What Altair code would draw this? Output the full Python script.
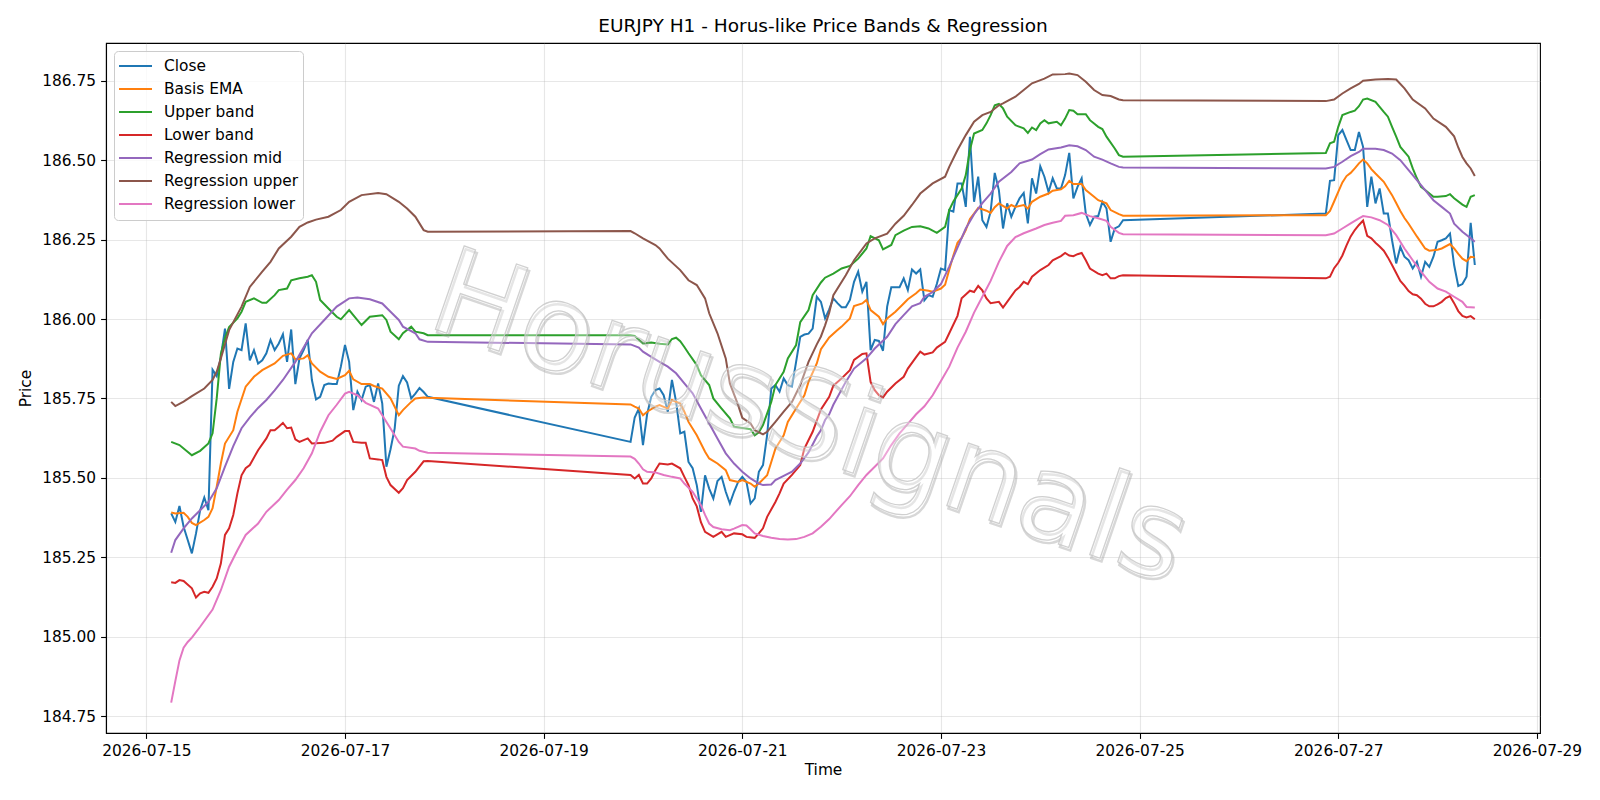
import altair as alt
import pandas as pd

# Hourly EURJPY bars start here; offsets below are hours from this moment.
START = pd.Timestamp("2026-07-15 06:00")

TITLE = "EURJPY H1 - Horus-like Price Bands & Regression"
WATERMARK = "HorusSignals"

SERIES = ["Close", "Basis EMA", "Upper band", "Lower band",
          "Regression mid", "Regression upper", "Regression lower"]
COLORS = ["#1f77b4", "#ff7f0e", "#2ca02c", "#d62728",
          "#9467bd", "#8c564b", "#e377c2"]

# Trading hours (weekend closures left out: Fri 20:00 -> Sun 21:00)
CLOSE_HOURS = list(range(0, 63)) + list(range(111, 231)) + list(range(279, 316))
CLOSE = [
    185.388, 185.361, 185.411, 185.346, 185.304, 185.262, 185.325, 185.398, 185.438, 185.398,
    185.840, 185.820, 185.880, 185.970, 185.780, 185.865, 185.907, 185.902, 185.986, 185.870,
    185.902, 185.860, 185.870, 185.892, 185.934, 185.902, 185.923, 185.952, 185.865, 185.967,
    185.795, 185.876, 185.902, 185.934, 185.808, 185.747, 185.755, 185.792, 185.797, 185.795,
    185.795, 185.850, 185.918, 185.865, 185.713, 185.771, 185.745, 185.787, 185.792, 185.739,
    185.797, 185.734, 185.535, 185.590, 185.655, 185.790, 185.820, 185.800, 185.750, 185.765,
    185.783, 185.770, 185.755,
    185.613, 185.690, 185.718, 185.603, 185.700, 185.755, 185.776, 185.781, 185.760, 185.708,
    185.808, 185.740, 185.640, 185.645, 185.550, 185.530, 185.477, 185.393, 185.508, 185.466,
    185.435, 185.490, 185.503, 185.456, 185.419, 185.456, 185.487, 185.503, 185.487, 185.419,
    185.435, 185.519, 185.540, 185.634, 185.781, 185.792, 185.771, 185.813, 185.792, 185.787,
    185.865, 185.944, 185.951, 185.954, 185.970, 186.070, 186.054, 186.002, 186.030, 186.065,
    186.050, 186.037, 186.037, 186.060, 186.117, 186.149, 186.086, 186.117, 185.902, 185.934,
    185.931, 185.900, 186.039, 186.100, 186.100, 186.100, 186.128, 186.091, 186.156, 186.143,
    186.156, 186.059, 186.075, 186.070, 186.110, 186.159, 186.154, 186.343, 186.338, 186.427,
    186.427, 186.353, 186.574, 186.369, 186.448, 186.311, 186.290, 186.338, 186.460, 186.406,
    186.285, 186.364, 186.322, 186.353, 186.380, 186.397, 186.301, 186.443, 186.395, 186.481,
    186.448, 186.400, 186.443, 186.411, 186.411, 186.453, 186.523, 186.380, 186.416, 186.443,
    186.332, 186.296, 186.322, 186.324, 186.369, 186.348, 186.243, 186.285, 186.292, 186.311,
    186.332, 186.435, 186.437, 186.579, 186.595, 186.563, 186.532, 186.532, 186.589, 186.542,
    186.353, 186.448, 186.364, 186.411, 186.332, 186.332, 186.248, 186.175, 186.227, 186.196,
    186.185, 186.159, 186.180, 186.133, 186.180, 186.164, 186.196, 186.243, 186.248, 186.254,
    186.269, 186.170, 186.104, 186.110, 186.133, 186.303, 186.170,
]

# (hour, value) readings for the smoother studies
BASIS_EMA = [
    (0, 185.391), (1, 185.388), (3, 185.390), (4, 185.377), (5, 185.358), (6, 185.351),
    (8, 185.367), (9, 185.377), (10, 185.404), (11, 185.472), (12, 185.545), (13, 185.608),
    (15, 185.650), (16, 185.708), (18, 185.787), (20, 185.818), (22, 185.839), (25, 185.860),
    (27, 185.884), (29, 185.892), (30, 185.873), (32, 185.876), (33, 185.886), (34, 185.860),
    (36, 185.834), (38, 185.818), (40, 185.811), (42, 185.823), (43, 185.837), (44, 185.810),
    (46, 185.795), (48, 185.795), (49, 185.789), (51, 185.781), (53, 185.750), (55, 185.697),
    (56, 185.713), (58, 185.739), (59, 185.750), (61, 185.753), (62, 185.752),
    (111, 185.731), (112, 185.724), (113, 185.718), (114, 185.697), (115, 185.708),
    (117, 185.724), (118, 185.729), (120, 185.718), (121, 185.745), (123, 185.734),
    (124, 185.708), (125, 185.676), (127, 185.634), (129, 185.582), (130, 185.561),
    (132, 185.545), (134, 185.524), (135, 185.493), (137, 185.487), (138, 185.493),
    (140, 185.482), (141, 185.472), (142, 185.482), (144, 185.508), (145, 185.550),
    (146, 185.592), (148, 185.634), (149, 185.676), (151, 185.718), (153, 185.760),
    (154, 185.802), (156, 185.860), (157, 185.905), (159, 185.942), (161, 185.965),
    (162, 185.976), (164, 186.002), (165, 186.041), (167, 186.049), (168, 186.060),
    (169, 186.028), (171, 186.007), (172, 185.984), (173, 186.002), (175, 186.023),
    (177, 186.049), (178, 186.062), (180, 186.081), (181, 186.093), (183, 186.089),
    (184, 186.086), (186, 186.096), (187, 186.108), (188, 186.155), (189, 186.200),
    (190, 186.240), (191, 186.255), (192, 186.280), (193, 186.315), (194, 186.332),
    (195, 186.350), (197, 186.341), (198, 186.334), (199, 186.352), (200, 186.364),
    (202, 186.348), (203, 186.359), (204, 186.353), (206, 186.359), (207, 186.348),
    (208, 186.369), (210, 186.385), (212, 186.395), (213, 186.404), (215, 186.408),
    (216, 186.418), (217, 186.435), (218, 186.425), (220, 186.425), (221, 186.406),
    (223, 186.385), (224, 186.374), (226, 186.364), (227, 186.343), (229, 186.330),
    (230, 186.325),
    (279, 186.327), (280, 186.340), (281, 186.370), (282, 186.400), (283, 186.430),
    (284, 186.450), (285, 186.460), (286, 186.474), (287, 186.490), (288, 186.502),
    (289, 186.490), (290, 186.472), (291, 186.458), (293, 186.432), (295, 186.390),
    (296, 186.365), (297, 186.340), (298, 186.318), (299, 186.300), (301, 186.260),
    (303, 186.222), (304, 186.215), (306, 186.218), (307, 186.222), (309, 186.236),
    (310, 186.222), (311, 186.205), (312, 186.190), (313, 186.182), (314, 186.196),
    (315, 186.194),
]

UPPER_BAND = [
    (0, 185.613), (2, 185.603), (5, 185.571), (7, 185.585), (9, 185.608), (10, 185.640),
    (11, 185.750), (12, 185.890), (13, 185.940), (14, 185.975), (16, 186.002), (17, 186.023),
    (18, 186.054), (20, 186.065), (22, 186.051), (23, 186.051), (25, 186.075), (26, 186.091),
    (28, 186.096), (29, 186.122), (31, 186.128), (33, 186.133), (34, 186.138), (35, 186.117),
    (36, 186.060), (38, 186.033), (40, 186.007), (41, 185.999), (43, 186.028), (44, 186.012),
    (46, 185.981), (48, 186.007), (49, 186.009), (51, 186.012), (52, 185.997), (53, 185.960),
    (55, 185.936), (56, 185.955), (58, 185.976), (59, 185.960), (61, 185.955), (62, 185.949),
    (111, 185.949), (112, 185.947), (114, 185.923), (116, 185.926), (118, 185.922),
    (120, 185.920), (121, 185.937), (122, 185.941), (123, 185.930), (124, 185.912),
    (125, 185.892), (127, 185.855), (128, 185.823), (130, 185.792), (131, 185.750),
    (133, 185.718), (135, 185.687), (136, 185.661), (138, 185.657), (140, 185.653),
    (141, 185.634), (142, 185.643), (143, 185.666), (145, 185.739), (146, 185.792),
    (148, 185.834), (149, 185.876), (151, 185.918), (152, 185.990), (154, 186.028),
    (155, 186.075), (157, 186.115), (158, 186.130), (160, 186.143), (162, 186.159),
    (164, 186.167), (166, 186.190), (168, 186.222), (169, 186.261), (171, 186.248),
    (172, 186.219), (174, 186.233), (175, 186.264), (177, 186.278), (179, 186.290),
    (181, 186.292), (183, 186.285), (185, 186.271), (187, 186.290), (188, 186.343),
    (189, 186.370), (191, 186.411), (192, 186.453), (193, 186.532), (194, 186.584),
    (196, 186.595), (197, 186.616), (198, 186.642), (199, 186.673), (200, 186.677),
    (201, 186.663), (202, 186.637), (204, 186.610), (206, 186.600), (207, 186.586),
    (208, 186.603), (209, 186.595), (210, 186.616), (211, 186.626), (212, 186.616),
    (214, 186.621), (215, 186.610), (216, 186.631), (217, 186.658), (218, 186.656),
    (219, 186.645), (221, 186.645), (222, 186.626), (224, 186.605), (225, 186.598),
    (226, 186.574), (228, 186.537), (229, 186.516), (230, 186.511),
    (279, 186.523), (280, 186.553), (281, 186.558), (282, 186.605), (283, 186.642),
    (285, 186.652), (286, 186.656), (287, 186.670), (288, 186.691), (289, 186.694),
    (291, 186.684), (292, 186.668), (293, 186.652), (294, 186.637), (295, 186.605),
    (296, 186.574), (297, 186.542), (299, 186.511), (300, 186.474), (301, 186.443),
    (302, 186.416), (303, 186.406), (305, 186.385), (306, 186.385), (308, 186.387),
    (309, 186.393), (310, 186.380), (312, 186.360), (313, 186.353), (314, 186.385),
    (315, 186.390),
]

LOWER_BAND = [
    (0, 185.171), (1, 185.169), (2, 185.178), (3, 185.175), (5, 185.152), (6, 185.123),
    (7, 185.136), (8, 185.141), (9, 185.138), (10, 185.157), (11, 185.183), (12, 185.230),
    (13, 185.320), (14, 185.341), (15, 185.383), (16, 185.451), (17, 185.508), (18, 185.530),
    (19, 185.540), (21, 185.587), (23, 185.624), (24, 185.650), (25, 185.650), (26, 185.661),
    (27, 185.673), (28, 185.656), (29, 185.658), (30, 185.621), (31, 185.613), (33, 185.624),
    (34, 185.608), (37, 185.610), (39, 185.617), (40, 185.629), (42, 185.647), (43, 185.647),
    (44, 185.613), (46, 185.610), (47, 185.610), (48, 185.561), (50, 185.558), (51, 185.556),
    (52, 185.503), (53, 185.477), (55, 185.453), (56, 185.467), (57, 185.493), (59, 185.519),
    (61, 185.552), (62, 185.553),
    (111, 185.509), (112, 185.498), (113, 185.509), (114, 185.482), (115, 185.482),
    (116, 185.498), (117, 185.524), (118, 185.545), (120, 185.542), (121, 185.545),
    (123, 185.530), (124, 185.503), (125, 185.477), (126, 185.435), (127, 185.410),
    (128, 185.360), (129, 185.330), (131, 185.314), (133, 185.330), (134, 185.314),
    (136, 185.325), (138, 185.322), (139, 185.314), (141, 185.311), (142, 185.325),
    (143, 185.341), (144, 185.377), (146, 185.424), (147, 185.451), (148, 185.482),
    (150, 185.509), (152, 185.540), (153, 185.592), (155, 185.645), (156, 185.680),
    (157, 185.715), (159, 185.755), (160, 185.790), (162, 185.813), (164, 185.839),
    (165, 185.871), (167, 185.890), (168, 185.892), (169, 185.802), (170, 185.776),
    (171, 185.760), (172, 185.753), (173, 185.771), (175, 185.797), (177, 185.818),
    (178, 185.844), (180, 185.880), (181, 185.897), (182, 185.888), (184, 185.895),
    (185, 185.910), (187, 185.928), (188, 185.955), (190, 186.010), (191, 186.065),
    (192, 186.077), (193, 186.089), (194, 186.085), (195, 186.104), (196, 186.090),
    (197, 186.065), (198, 186.050), (200, 186.054), (201, 186.036), (202, 186.054),
    (204, 186.090), (205, 186.101), (206, 186.117), (207, 186.110), (208, 186.133),
    (210, 186.154), (212, 186.170), (213, 186.185), (215, 186.198), (216, 186.208),
    (217, 186.200), (218, 186.198), (219, 186.204), (220, 186.208), (221, 186.185),
    (222, 186.159), (224, 186.143), (225, 186.138), (226, 186.143), (227, 186.128),
    (228, 186.128), (229, 186.135), (230, 186.138),
    (279, 186.128), (280, 186.133), (281, 186.160), (282, 186.177), (283, 186.200),
    (284, 186.232), (285, 186.260), (286, 186.280), (287, 186.296), (288, 186.310),
    (289, 186.262), (290, 186.254), (291, 186.240), (292, 186.228), (293, 186.215),
    (294, 186.194), (295, 186.170), (296, 186.145), (297, 186.120), (298, 186.105),
    (299, 186.088), (300, 186.078), (301, 186.075), (302, 186.064), (303, 186.048),
    (304, 186.040), (305, 186.040), (306, 186.046), (307, 186.054), (308, 186.066),
    (309, 186.072), (310, 186.050), (311, 186.025), (312, 186.010), (313, 186.005),
    (314, 186.009), (315, 185.999),
]

REG_MID = [
    (0, 185.264), (1, 185.304), (3, 185.341), (5, 185.372), (7, 185.398), (9, 185.424),
    (11, 185.467), (13, 185.535), (15, 185.600), (17, 185.656), (19, 185.690), (21, 185.720),
    (23, 185.745), (25, 185.775), (27, 185.808), (30, 185.865), (32, 185.910), (34, 185.955),
    (37, 185.997), (40, 186.039), (43, 186.065), (45, 186.068), (48, 186.062), (51, 186.049),
    (53, 186.023), (55, 185.997), (56, 185.976), (59, 185.955), (60, 185.936), (62, 185.928),
    (111, 185.920), (113, 185.910), (114, 185.897), (116, 185.881), (118, 185.865),
    (120, 185.850), (122, 185.829), (124, 185.797), (126, 185.766), (128, 185.718),
    (130, 185.671), (132, 185.624), (134, 185.577), (136, 185.545), (138, 185.519),
    (140, 185.498), (142, 185.482), (143, 185.477), (145, 185.479), (146, 185.493),
    (148, 185.506), (150, 185.519), (152, 185.545), (154, 185.580), (156, 185.630),
    (157, 185.650), (158, 185.682), (159, 185.700), (160, 185.730), (163, 185.802),
    (165, 185.844), (168, 185.876), (170, 185.907), (173, 185.944), (175, 185.984),
    (177, 186.012), (179, 186.040), (181, 186.050), (182, 186.070), (184, 186.085),
    (186, 186.110), (188, 186.165), (190, 186.225), (192, 186.285), (194, 186.330),
    (196, 186.365), (198, 186.395), (200, 186.432), (203, 186.463), (205, 186.490),
    (208, 186.502), (210, 186.519), (212, 186.534), (215, 186.540), (217, 186.547),
    (219, 186.544), (221, 186.532), (223, 186.511), (225, 186.502), (227, 186.490),
    (229, 186.479), (230, 186.477),
    (279, 186.474), (281, 186.479), (283, 186.495), (285, 186.513), (287, 186.526),
    (288, 186.536), (291, 186.536), (293, 186.532), (295, 186.521), (297, 186.500),
    (299, 186.469), (301, 186.437), (303, 186.406), (305, 186.374), (307, 186.353),
    (309, 186.332), (310, 186.300), (312, 186.275), (314, 186.254), (315, 186.243),
]

REG_UPPER = [
    (0, 185.739), (1, 185.726), (3, 185.740), (5, 185.757), (8, 185.781), (10, 185.808),
    (11, 185.834), (12, 185.876), (14, 185.965), (17, 186.039), (19, 186.101), (22, 186.149),
    (24, 186.180), (26, 186.222), (29, 186.259), (31, 186.290), (33, 186.304), (35, 186.313),
    (38, 186.322), (41, 186.343), (43, 186.369), (46, 186.390), (50, 186.397), (52, 186.393),
    (55, 186.369), (57, 186.348), (59, 186.322), (61, 186.280), (62, 186.275),
    (111, 186.277), (112, 186.270), (114, 186.254), (117, 186.233), (118, 186.222),
    (120, 186.190), (123, 186.154), (125, 186.122), (127, 186.107), (129, 186.065),
    (130, 186.018), (132, 185.955), (134, 185.876), (135, 185.797), (137, 185.729),
    (138, 185.689), (140, 185.671), (141, 185.650), (143, 185.637), (144, 185.645),
    (146, 185.676), (148, 185.708), (150, 185.739), (152, 185.792), (154, 185.865),
    (156, 185.920), (157, 185.945), (158, 185.980), (159, 186.020), (160, 186.075),
    (163, 186.138), (165, 186.185), (168, 186.238), (170, 186.254), (173, 186.269),
    (175, 186.300), (177, 186.325), (179, 186.359), (181, 186.395), (184, 186.427),
    (187, 186.448), (188, 186.479), (190, 186.532), (192, 186.579), (194, 186.621),
    (196, 186.642), (198, 186.652), (200, 186.673), (201, 186.679), (204, 186.700),
    (206, 186.721), (208, 186.742), (211, 186.757), (213, 186.770), (216, 186.771),
    (217, 186.773), (219, 186.768), (221, 186.747), (223, 186.721), (225, 186.705),
    (227, 186.702), (229, 186.691), (230, 186.689),
    (279, 186.686), (281, 186.691), (283, 186.710), (285, 186.726), (287, 186.740),
    (288, 186.750), (291, 186.754), (294, 186.756), (296, 186.754), (298, 186.726),
    (300, 186.691), (303, 186.663), (305, 186.631), (308, 186.605), (310, 186.575),
    (311, 186.540), (312, 186.510), (313, 186.490), (314, 186.474), (315, 186.450),
]

REG_LOWER = [
    (0, 184.792), (1, 184.860), (2, 184.925), (3, 184.965), (4, 184.983), (5, 184.997),
    (7, 185.031), (10, 185.085), (12, 185.146), (14, 185.220), (16, 185.272), (18, 185.320),
    (21, 185.356), (23, 185.393), (26, 185.430), (28, 185.463), (30, 185.493), (32, 185.530),
    (34, 185.577), (36, 185.645), (38, 185.697), (40, 185.730), (42, 185.765), (43, 185.771),
    (45, 185.760), (47, 185.736), (50, 185.718), (51, 185.697), (53, 185.655), (55, 185.613),
    (56, 185.598), (59, 185.592), (60, 185.585), (62, 185.579),
    (111, 185.567), (112, 185.560), (113, 185.545), (114, 185.527), (115, 185.519),
    (117, 185.517), (119, 185.509), (121, 185.503), (123, 185.498), (124, 185.482),
    (126, 185.456), (127, 185.435), (128, 185.414), (129, 185.383), (130, 185.356),
    (131, 185.345), (133, 185.338), (135, 185.335), (136, 185.340), (138, 185.351),
    (139, 185.350), (140, 185.338), (141, 185.325), (143, 185.317), (145, 185.311),
    (147, 185.307), (149, 185.306), (151, 185.307), (153, 185.314), (155, 185.325),
    (157, 185.346), (159, 185.370), (160, 185.385), (162, 185.414), (164, 185.442),
    (166, 185.477), (168, 185.509), (170, 185.535), (172, 185.561), (174, 185.603),
    (176, 185.640), (178, 185.670), (180, 185.700), (182, 185.725), (184, 185.760),
    (186, 185.805), (188, 185.850), (190, 185.910), (192, 185.960), (194, 186.020),
    (196, 186.070), (198, 186.120), (200, 186.180), (202, 186.230), (204, 186.258),
    (206, 186.270), (209, 186.285), (211, 186.296), (213, 186.303), (215, 186.309),
    (216, 186.325), (218, 186.327), (220, 186.334), (222, 186.324), (224, 186.317),
    (226, 186.309), (227, 186.290), (229, 186.271), (230, 186.267),
    (279, 186.264), (281, 186.269), (283, 186.285), (285, 186.301), (287, 186.317),
    (288, 186.324), (290, 186.320), (292, 186.311), (294, 186.296), (296, 186.264),
    (298, 186.222), (300, 186.185), (302, 186.149), (304, 186.117), (306, 186.096),
    (308, 186.086), (310, 186.070), (312, 186.054), (313, 186.038), (315, 186.036),
]

Y_TICKS = [184.75, 185.00, 185.25, 185.50, 185.75, 186.00, 186.25, 186.50, 186.75]
X_TICK_DAYS = [15, 17, 19, 21, 23, 25, 27, 29]

FONT = "DejaVu Sans"


def frame(name, hours, values):
    return pd.DataFrame({
        "time": START + pd.to_timedelta(hours, unit="h"),
        "price": values,
        "series": name,
    })


def pairs(name, readings):
    return frame(name, [h for h, _ in readings], [v for _, v in readings])


df = pd.concat([
    frame("Close", CLOSE_HOURS, CLOSE),
    pairs("Basis EMA", BASIS_EMA),
    pairs("Upper band", UPPER_BAND),
    pairs("Lower band", LOWER_BAND),
    pairs("Regression mid", REG_MID),
    pairs("Regression upper", REG_UPPER),
    pairs("Regression lower", REG_LOWER),
], ignore_index=True)
df["order"] = df["series"].map({s: i for i, s in enumerate(SERIES)})

x_domain = [alt.DateTime(year=2026, month=7, date=14, hours=14, minutes=15),
            alt.DateTime(year=2026, month=7, date=29, hours=0, minutes=45)]
x_ticks = [alt.DateTime(year=2026, month=7, date=d) for d in X_TICK_DAYS]

lines = alt.Chart(df).mark_line(strokeWidth=2, clip=True).encode(
    x=alt.X("time:T", title="Time",
            scale=alt.Scale(domain=x_domain),
            axis=alt.Axis(values=x_ticks, format="%Y-%m-%d", labelFlush=False,
                          labelOverlap=False, titlePadding=4)),
    y=alt.Y("price:Q", title="Price",
            scale=alt.Scale(domain=[184.6965, 186.869], nice=False, zero=False),
            axis=alt.Axis(values=Y_TICKS, format=".2f", titlePadding=8)),
    color=alt.Color("series:N", sort=SERIES,
                    scale=alt.Scale(domain=SERIES, range=COLORS),
                    legend=alt.Legend(title=None, orient="none", legendX=8, legendY=8,
                                      symbolType="stroke", symbolSize=1089,
                                      symbolStrokeWidth=2, labelFont=FONT,
                                      labelFontSize=15.4, labelColor="black",
                                      labelOffset=11, clipHeight=22.1, rowPadding=0,
                                      padding=4,
                                      fillColor="rgba(255,255,255,0.8)",
                                      strokeColor="#cccccc", cornerRadius=4)),
    order=alt.Order("order:Q"),
)

# Faint rotated brand stamp across the plot: soft offset shadow + light outline
mark_df = pd.DataFrame({"label": [WATERMARK]})
shadow = alt.Chart(mark_df).mark_text(
    font=FONT, fontSize=121, angle=19, align="center", baseline="middle",
    dx=2.5, dy=2.5, fillOpacity=0, stroke="#9a9a9a", strokeWidth=2.4, strokeOpacity=0.4,
).encode(text="label:N", x=alt.value(703), y=alt.value(377))
stamp = alt.Chart(mark_df).mark_text(
    font=FONT, fontSize=121, angle=19, align="center", baseline="middle",
    fill="#ffffff", fillOpacity=0.35, stroke="#c8c8c8", strokeWidth=1.3, strokeOpacity=0.85,
).encode(text="label:N", x=alt.value(703), y=alt.value(377))

chart = alt.layer(lines, shadow, stamp).properties(
    width=1434, height=690,
    title=TITLE,
    autosize=alt.AutoSizeParams(type="none"),
    padding={"left": 106, "top": 43, "right": 60, "bottom": 67},
).configure_axis(
    labelFont=FONT, titleFont=FONT, labelFontSize=15.4, titleFontSize=15.4,
    titleFontWeight="normal", labelColor="black", titleColor="black",
    domainColor="black", domainWidth=1.1, tickColor="black", tickWidth=1.1,
    tickSize=5.4, labelPadding=5, gridColor="#b0b0b0", gridOpacity=0.3, gridWidth=1.1,
).configure_view(
    stroke="black", strokeWidth=1.1,
).configure_title(
    font=FONT, fontSize=18.5, fontWeight="normal", anchor="middle", color="black", offset=8,
)

chart.save("out.html", embed_options={"renderer": "svg", "actions": False})
